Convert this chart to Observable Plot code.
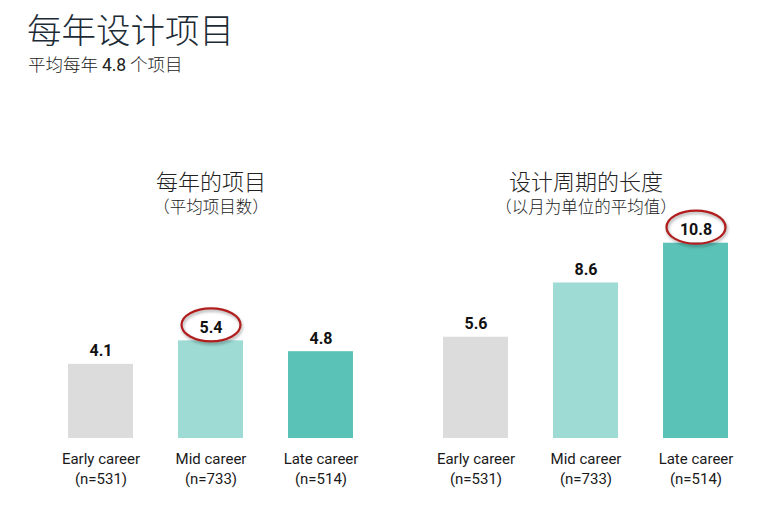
<!DOCTYPE html>
<html><head><meta charset="utf-8">
<script src="https://cdn.jsdelivr.net/npm/d3@7"></script>
<script src="https://cdn.jsdelivr.net/npm/@observablehq/plot@0.6"></script>
<style>
body{margin:0;background:#fff;width:764px;height:529px;overflow:hidden;font-family:"Noto Sans CJK SC",sans-serif}
#title{position:absolute;left:27px;top:6px;font-size:34.5px;font-weight:300;color:#1c2b36;line-height:44px;margin:0;white-space:nowrap}
#subtitle{position:absolute;left:28px;top:51px;font-size:17.5px;font-weight:300;color:#222;line-height:26px;white-space:nowrap}
#chart{position:absolute;left:0;top:90px}
#chart g[aria-label="dot"] path{filter:drop-shadow(1px 2px 1.5px rgba(0,0,0,0.35))}
</style></head><body>
<div id="title">每年设计项目</div>
<div id="subtitle">平均每年 <span style="font-family:Roboto,sans-serif;font-weight:400">4.8</span> 个项目</div>
<div id="chart"></div>
<script>
const panels = ["每年的项目", "设计周期的长度"];
const panelNotes = ["（平均项目数）", "（以月为单位的平均值）"];
const stages = ["Early career", "Mid career", "Late career"];
const sampleSizes = ["(n=531)", "(n=733)", "(n=514)"];
const projectsPerYear = [4.1, 5.4, 4.8];
const cycleMonths = [5.6, 8.6, 10.8];
const stageColors = ["#dcdcdc", "#9ddbd4", "#5bc2b8"];

const series = [projectsPerYear, cycleMonths];
const rows = panels.flatMap((p, i) => stages.map((s, j) => ({panel: p, stage: s, n: sampleSizes[j], value: series[i][j]})));
const panelRows = panels.map((p, i) => ({panel: p, note: panelNotes[i]}));

const ellipse = {draw(ctx) {
  const rx = 29.5, ry = 16.5, k = 0.5523;
  ctx.moveTo(rx, 0);
  ctx.bezierCurveTo(rx, ry * k, rx * k, ry, 0, ry);
  ctx.bezierCurveTo(-rx * k, ry, -rx, ry * k, -rx, 0);
  ctx.bezierCurveTo(-rx, -ry * k, -rx * k, -ry, 0, -ry);
  ctx.bezierCurveTo(rx * k, -ry, rx, -ry * k, rx, 0);
  ctx.closePath();
}};

const cjk = "'Noto Sans CJK SC', sans-serif";
const chart = Plot.plot({
  width: 764,
  height: 439,
  marginLeft: 46,
  marginRight: 14,
  marginTop: 131,
  marginBottom: 91,
  style: {fontFamily: "Roboto, 'Noto Sans CJK SC', sans-serif", background: "#fff", overflow: "visible"},
  fx: {domain: panels, paddingInner: 46 / 375, paddingOuter: 0, axis: null},
  x: {domain: stages, paddingInner: 45 / 110, paddingOuter: 0.2, axis: null},
  y: {domain: [0, 12], axis: null},
  color: {domain: stages, range: stageColors},
  marks: [
    Plot.barY(rows, {fx: "panel", x: "stage", y: "value", fill: "stage"}),
    Plot.text(rows, {fx: "panel", x: "stage", y: "value", text: d => d.value.toFixed(1), dy: -13, fontWeight: 700, fontSize: 16, fill: "#111"}),
    Plot.dot(rows, Plot.selectMaxY({fx: "panel", x: "stage", y: "value", dy: -16, symbol: ellipse, r: 3, stroke: "#b21d1d", strokeWidth: 2.2, fill: "none"})),
    Plot.text(rows, {fx: "panel", x: "stage", text: "stage", frameAnchor: "bottom", lineAnchor: "middle", dy: 21, fontSize: 15, fill: "#1a1a1a"}),
    Plot.text(rows, {fx: "panel", x: "stage", text: "n", frameAnchor: "bottom", lineAnchor: "middle", dy: 41, fontSize: 15, fill: "#1a1a1a"}),
    Plot.text(panelRows, {fx: "panel", text: "panel", frameAnchor: "top", lineAnchor: "middle", dy: -39, fontSize: 22, fontWeight: 300, fontFamily: cjk, fill: "#222"}),
    Plot.text(panelRows, {fx: "panel", text: "note", frameAnchor: "top", lineAnchor: "middle", dy: -14, fontSize: 16.5, fontWeight: 300, fontFamily: cjk, fill: "#222"})
  ]
});
document.getElementById("chart").appendChild(chart);
</script>
</body></html>
